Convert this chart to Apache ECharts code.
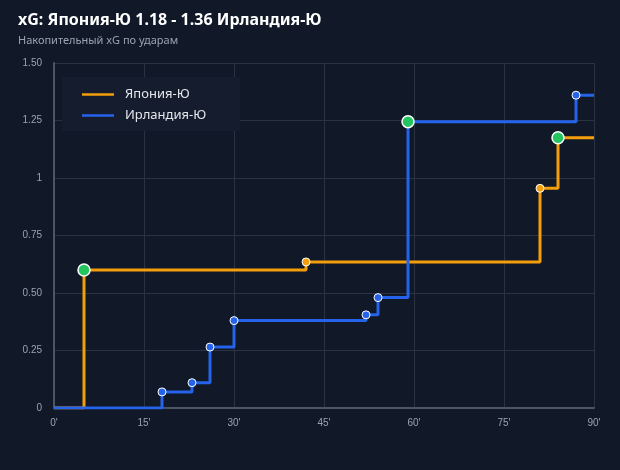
<!DOCTYPE html>
<html style="height: 100%">
<head>
<meta charset="utf-8">
<script src="https://cdn.jsdelivr.net/npm/echarts@6/dist/echarts.min.js"></script>
</head>
<body style="height: 100%; margin: 0; background: #111827;">
<div id="container" style="width: 620px; height: 470px"></div>
<script type="text/javascript">
// минуты ударов и накопленный xG
var japanMin = [0, 5, 42, 81, 84, 90];
var japanXg = [0, 0.60, 0.635, 0.955, 1.175, 1.175];
var japanGoal = [false, true, false, false, true, false];

var irelandMin = [0, 18, 23, 26, 30, 52, 54, 59, 87, 90];
var irelandXg = [0, 0.07, 0.11, 0.265, 0.38, 0.405, 0.48, 1.245, 1.36, 1.36];
var irelandGoal = [false, false, false, false, false, false, false, true, false, false];

var yTickLabels = {0: '0', 0.25: '0.25', 0.5: '0.50', 0.75: '0.75', 1: '1', 1.25: '1.25', 1.5: '1.50'};

function buildData(mins, vals, goals, color) {
        var out = [];
        for (var i = 0; i < mins.length; i++) {
                var item = { value: [mins[i], vals[i]] };
                if (i === 0 || i === mins.length - 1) {
                        item.symbol = 'none';
                } else if (goals[i]) {
                        item.symbolSize = 12;
                        item.itemStyle = { color: '#22c55e', borderColor: '#ffffff', borderWidth: 1.5 };
                } else {
                        item.symbolSize = 8;
                        item.itemStyle = { color: color, borderColor: '#ffffff', borderWidth: 1 };
                }
                out.push(item);
        }
        return out;
}

var myChart = echarts.init(document.getElementById('container'));
var option = {
        backgroundColor: '#111827',
        animation: false,
        title: {
                text: 'xG: Япония-Ю 1.18 - 1.36 Ирландия-Ю',
                subtext: 'Накопительный xG по ударам',
                left: 18,
                top: 12,
                padding: 0,
                itemGap: 7,
                textStyle: { color: '#ffffff', fontSize: 16, fontWeight: 'bold', fontFamily: 'Noto Sans' },
                subtextStyle: { color: '#9ca3af', fontSize: 11, fontFamily: 'Noto Sans' }
        },
        legend: {
                orient: 'vertical',
                left: 62,
                top: 77,
                padding: [11, 34, 9, 20],
                itemGap: 8,
                itemWidth: 32,
                itemHeight: 14,
                backgroundColor: '#141c2d',
                icon: 'path://M0,6 L32,6 L32,8.5 L0,8.5 Z',
                textStyle: { color: '#e5e7eb', fontSize: 13, fontFamily: 'Noto Sans', padding: [0, 0, 0, 6] },
                data: ['Япония-Ю', 'Ирландия-Ю']
        },
        grid: { left: 54, right: 26, top: 63, bottom: 62 },
        xAxis: {
                type: 'value',
                min: 0,
                max: 90,
                interval: 15,
                axisLine: { lineStyle: { color: '#4b5563', width: 2 } },
                axisTick: { show: false },
                splitLine: { lineStyle: { color: '#2a3342' } },
                axisLabel: { color: '#9ca3af', fontSize: 10, margin: 10, formatter: function (v) { return v + "'"; } }
        },
        yAxis: {
                type: 'value',
                min: 0,
                max: 1.5,
                interval: 0.25,
                axisLine: { show: true, lineStyle: { color: '#4b5563', width: 2 } },
                axisTick: { show: false },
                splitLine: { lineStyle: { color: '#2a3342' } },
                axisLabel: { color: '#9ca3af', fontSize: 10, margin: 12, formatter: function (v) { return yTickLabels[v] !== undefined ? yTickLabels[v] : v; } }
        },
        series: [
                {
                        name: 'Япония-Ю',
                        type: 'line',
                        step: 'end',
                        data: buildData(japanMin, japanXg, japanGoal, '#f59e0b'),
                        lineStyle: { color: '#f59e0b', width: 3 },
                        itemStyle: { color: '#f59e0b' },
                        symbol: 'circle'
                },
                {
                        name: 'Ирландия-Ю',
                        type: 'line',
                        step: 'end',
                        data: buildData(irelandMin, irelandXg, irelandGoal, '#2563eb'),
                        lineStyle: { color: '#2563eb', width: 3 },
                        itemStyle: { color: '#2563eb' },
                        symbol: 'circle'
                }
        ]
};
myChart.setOption(option);
</script>
</body>
</html>
